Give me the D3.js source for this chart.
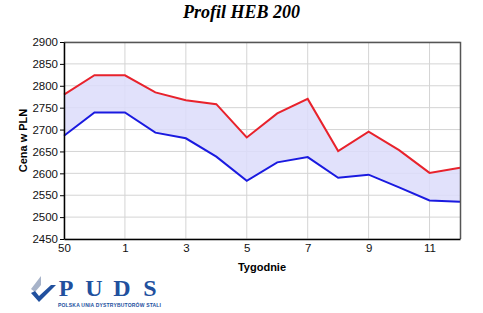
<!DOCTYPE html>
<html>
<head>
<meta charset="utf-8">
<script src="https://cdn.jsdelivr.net/npm/d3@7"></script>
<style>
  body { margin: 0; background: #fff; }
  svg { display: block; }
</style>
</head>
<body>
<div id="chart"></div>
<script>
// weeks (second week label is hidden on the axis)
const weeks = ["50", "51", "1", "2", "3", "4", "5", "6", "7", "8", "9", "10", "11", "12"];
const maxPrice = [2780, 2824, 2824, 2785, 2767, 2758, 2682, 2737, 2770, 2651, 2695, 2653, 2601, 2613];
const minPrice = [2686, 2739, 2739, 2693, 2680, 2638, 2583, 2625, 2637, 2590, 2597, 2568, 2538, 2535];
const yTicks = [2450, 2500, 2550, 2600, 2650, 2700, 2750, 2800, 2850, 2900];
const xTickLabels = ["50", "1", "3", "5", "7", "9", "11"];

const width = 483, height = 313;
const margin = { top: 42, right: 23, bottom: 74, left: 64 };
const innerW = width - margin.left - margin.right;
const innerH = height - margin.top - margin.bottom;

const svg = d3.select("#chart").append("svg")
    .attr("width", width)
    .attr("height", height);

const x = d3.scalePoint()
    .domain(weeks)
    .range([margin.left, margin.left + innerW]);

const y = d3.scaleLinear()
    .domain([2450, 2900])
    .range([margin.top + innerH, margin.top]);

const rows = weeks.map((w, i) => ({ week: w, hi: maxPrice[i], lo: minPrice[i] }));

// horizontal grid
svg.append("g")
    .selectAll("line")
    .data(yTicks)
    .join("line")
    .attr("x1", margin.left)
    .attr("x2", margin.left + innerW)
    .attr("y1", d => y(d))
    .attr("y2", d => y(d))
    .attr("stroke", "#d4d4d4")
    .attr("stroke-width", 1);

// vertical grid, only at labelled weeks
svg.append("g")
    .selectAll("line")
    .data(xTickLabels)
    .join("line")
    .attr("x1", d => x(d))
    .attr("x2", d => x(d))
    .attr("y1", margin.top)
    .attr("y2", margin.top + innerH)
    .attr("stroke", "#d4d4d4")
    .attr("stroke-width", 1);

// band between min and max
const band = d3.area()
    .x(d => x(d.week))
    .y0(d => y(d.lo))
    .y1(d => y(d.hi));

svg.append("path")
    .datum(rows)
    .attr("d", band)
    .attr("fill", "#dcdcfa")
    .attr("fill-opacity", 0.85);

const line = key => d3.line()
    .x(d => x(d.week))
    .y(d => y(d[key]));

svg.append("path")
    .datum(rows)
    .attr("d", line("hi"))
    .attr("fill", "none")
    .attr("stroke", "#e8222c")
    .attr("stroke-width", 2);

svg.append("path")
    .datum(rows)
    .attr("d", line("lo"))
    .attr("fill", "none")
    .attr("stroke", "#1a1ae0")
    .attr("stroke-width", 2);

// frame: top and right
svg.append("path")
    .attr("d", `M${margin.left},${margin.top + 0.5}H${margin.left + innerW + 0.5}V${margin.top + innerH}`)
    .attr("fill", "none")
    .attr("stroke", "#555")
    .attr("stroke-width", 1.5);

// axes
const yAxis = svg.append("g")
    .attr("transform", `translate(${margin.left},0)`)
    .call(d3.axisLeft(y).tickValues(yTicks).tickFormat(d3.format("d"))
        .tickSize(4).tickPadding(2).tickSizeOuter(0));

const xAxis = svg.append("g")
    .attr("transform", `translate(0,${margin.top + innerH})`)
    .call(d3.axisBottom(x).tickValues(xTickLabels).tickSize(4).tickPadding(1).tickSizeOuter(0));

[yAxis, xAxis].forEach(g => {
    g.select(".domain").attr("stroke", "#000").attr("stroke-width", 1.5);
    g.selectAll(".tick line").attr("stroke", "#000");
    g.selectAll(".tick text")
        .attr("fill", "#111")
        .style("font-family", "Arial, 'Liberation Sans', sans-serif")
        .style("font-size", "11.5px");
});
xAxis.selectAll(".tick line").remove();

// title
svg.append("text")
    .attr("x", width / 2)
    .attr("y", 18)
    .attr("text-anchor", "middle")
    .style("font-family", "'Times New Roman', 'Liberation Serif', serif")
    .style("font-weight", "bold")
    .style("font-style", "italic")
    .style("font-size", "18px")
    .text("Profil HEB 200");

// axis titles
svg.append("text")
    .attr("transform", `translate(27,${margin.top + innerH / 2}) rotate(-90)`)
    .attr("text-anchor", "middle")
    .style("font-family", "Arial, 'Liberation Sans', sans-serif")
    .style("font-weight", "bold")
    .style("font-size", "11px")
    .text("Cena w PLN");

svg.append("text")
    .attr("x", margin.left + innerW / 2)
    .attr("y", 271)
    .attr("text-anchor", "middle")
    .style("font-family", "Arial, 'Liberation Sans', sans-serif")
    .style("font-weight", "bold")
    .style("font-size", "11px")
    .text("Tygodnie");

// PUDS logo
const logo = svg.append("g");
logo.append("path")
    .attr("d", "M31,289 L41,276 L41,285 L35,292 Z")
    .attr("fill", "#a7b3c9");
logo.append("path")
    .attr("d", "M31,293 L39,302 L56,285 L51,285 L39,296 L35,291 Z")
    .attr("fill", "#21509e");
const letters = ["P", "U", "D", "S"];
logo.selectAll("text.big")
    .data(letters)
    .join("text")
    .attr("class", "big")
    .attr("x", (d, i) => 66 + i * 28)
    .attr("y", 296)
    .attr("text-anchor", "middle")
    .attr("fill", "#21509e")
    .style("font-family", "'Times New Roman', 'Liberation Serif', serif")
    .style("font-weight", "bold")
    .style("font-size", "24px")
    .text(d => d);
logo.append("text")
    .attr("x", 58)
    .attr("y", 307)
    .attr("textLength", 103)
    .attr("fill", "#21509e")
    .style("font-family", "Arial, 'Liberation Sans', sans-serif")
    .style("font-weight", "bold")
    .style("font-size", "5px")
    .text("POLSKA UNIA DYSTRYBUTORÓW STALI");
</script>
</body>
</html>
